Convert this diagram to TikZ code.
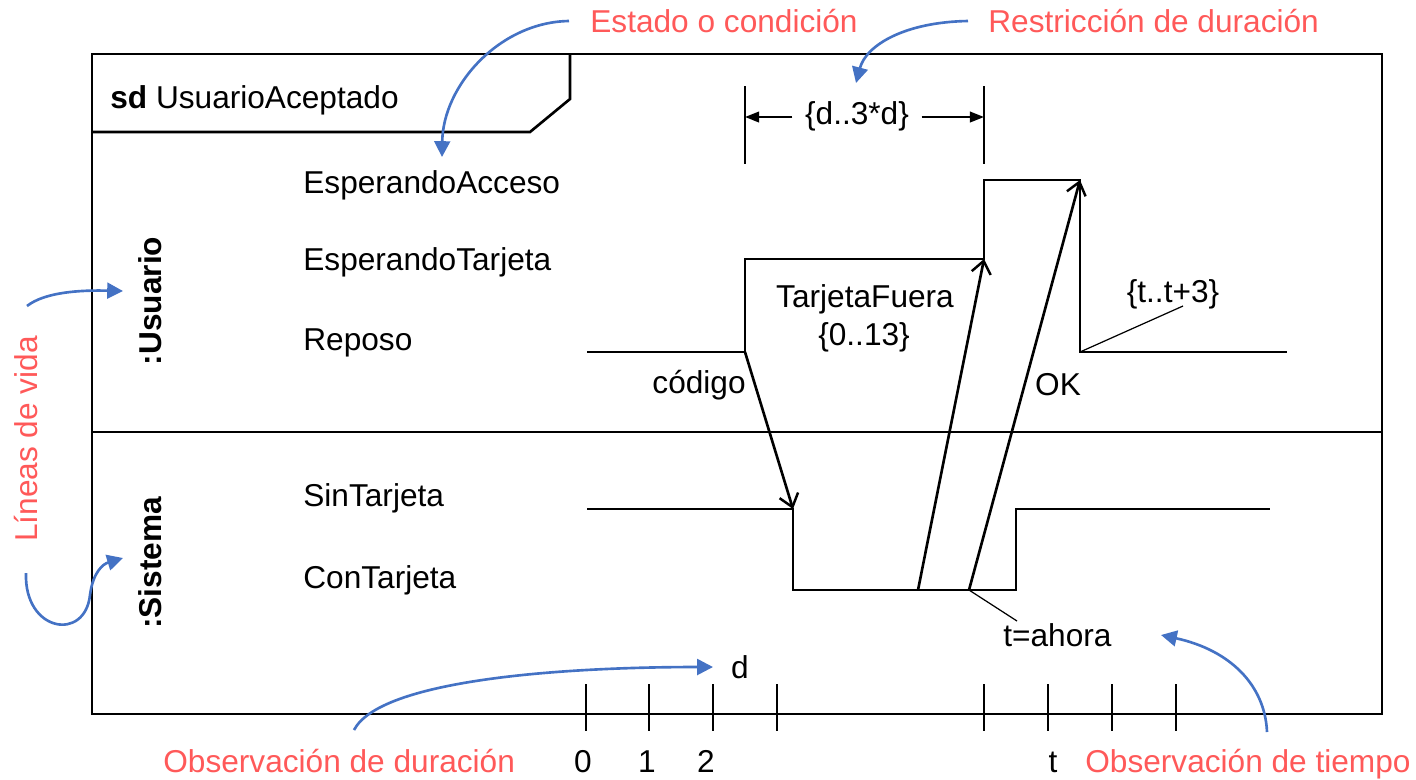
\documentclass[tikz,border=0pt]{standalone}
\usepackage{fontspec}
\setmainfont{Liberation Sans}
\usetikzlibrary{arrows.meta}
\definecolor{annred}{RGB}{255,89,89}
\definecolor{annblue}{RGB}{68,114,196}
\begin{document}
\begin{tikzpicture}[x=0.02cm,y=-0.02cm,
 every node/.style={font=\fontsize{18}{21}\selectfont, inner sep=0pt},
 ln/.style={line width=1.5pt, line join=miter},
 leader/.style={line width=0.7pt},
 msg/.style={line width=1.5pt, -{Straight Barb[length=7pt,width=11pt,line width=1.4pt]}},
 dimarrow/.style={line width=1.2pt, -{Triangle[length=8pt,width=6pt]}},
 ann/.style={text=annred},
 callout/.style={draw=annblue, line width=1.5pt, -{Triangle[length=9pt,width=9pt,fill=annblue]}},
 state/.style={anchor=base west},
 lifename/.style={rotate=90, font=\fontsize{18}{21}\selectfont\bfseries},
 tick/.style={line width=1.5pt}
]
\useasboundingbox (0,0) rectangle (1416,779);

% frame
\draw[ln] (92,54) rectangle (1382,714);
\draw[ln] (92,132) -- (530,132) -- (570,99) -- (570,54);
\draw[ln] (92,432) -- (1382,432);
\node[anchor=base west] (title) at (110,108) {\textbf{sd} UsuarioAceptado};

% lifeline names
\node[lifename] (usuario) at (150,301) {:Usuario};
\node[lifename] (sistema) at (150,563) {:Sistema};

% state labels
\node[state] (sEA) at (303,193) {EsperandoAcceso};
\node[state] (sET) at (303,270) {EsperandoTarjeta};
\node[state] (sRe) at (303,350) {Reposo};
\node[state] (sST) at (303,506) {SinTarjeta};
\node[state] (sCT) at (303,588) {ConTarjeta};

% timelines
\draw[ln] (587,352) -- (745,352) -- (745,259) -- (984,259) -- (984,180) -- (1080,180) -- (1080,352) -- (1287,352);
\draw[ln] (587,509) -- (793,509) -- (793,590) -- (1016,590) -- (1016,509) -- (1270,509);

% message points
\coordinate (m1s) at (745,352);
\coordinate (m1e) at (793,509);
\coordinate (m2s) at (918,590);
\coordinate (m2e) at (984,259);
\coordinate (m3s) at (969,590);
\coordinate (m3e) at (1080,180);
\draw[msg] (m1s) -- (m1e);
\draw[msg] (m2s) -- (m2e);
\draw[msg] (m3s) -- (m3e);

\node[anchor=base east] (codigo) at (746,393) {código};
\node[anchor=base] (ok) at (1058,395) {OK};
\node[anchor=base] (tf) at (865,307) {TarjetaFuera};
\node[anchor=base] (tf2) at (864,345) {\{0..13\}};

% time constraint {t..t+3}
\node[anchor=base] (tt3) at (1173,302) {\{t..t+3\}};
\coordinate (tt3lead) at (1183,306);
\coordinate (okend) at (1080,352);
\draw[leader] (okend) -- (tt3lead);

% t=ahora
\node[anchor=base west] (tnow) at (1003,646) {t=ahora};
\coordinate (tnowlead) at (1017,621);
\draw[leader] (m3s) -- (tnowlead);

% duration constraint
\draw[tick] (745,86) -- (745,164);
\draw[tick] (984,86) -- (984,164);
\node (dur) at (857,116) {\{d..3*d\}};
\coordinate (dl) at (745,117);
\coordinate (dr) at (984,117);
\draw[dimarrow, shorten <=7pt] (dur.west |- dl) -- (dl);
\draw[dimarrow, shorten <=7pt] (dur.east |- dr) -- (dr);

% time axis ticks
\foreach \x in {586,649,713,777,984,1048,1112,1176}
  \draw[tick] (\x,684) -- (\x,731);
\node[anchor=base] (t0) at (583,772) {0};
\node[anchor=base] (t1) at (647,772) {1};
\node[anchor=base] (t2) at (706,772) {2};
\node[anchor=base] (tt) at (1053,772) {t};
\node[anchor=base] (dd) at (740,678) {d};

% annotations
\node[ann, anchor=base west] (lbl1) at (590,32) {Estado o condición};
\node[ann, anchor=base west] (lbl2) at (988,32) {Restricción de duración};
\node[ann, rotate=90, anchor=base] (lbl3) at (37,439) {Líneas de vida};
\node[ann, anchor=base west] (lbl4) at (163,772) {Observación de duración};
\node[ann, anchor=base west] (lbl5) at (1085,772) {Observación de tiempo};

\coordinate (a1s) at (569,21);
\coordinate (a1e) at (442,157);
\draw[callout] (a1s) .. controls (500,22) and (443,85) .. (a1e);
\coordinate (a2s) at (968,21);
\coordinate (a2e) at (856,83);
\draw[callout] (a2s) .. controls (905,22) and (866,45) .. (a2e);
\coordinate (a3s) at (27,306);
\coordinate (a3e) at (123,291);
\draw[callout] (a3s) .. controls (45,292) and (80,290) .. (a3e);
\coordinate (a4s) at (26,573);
\coordinate (a4m) at (90,595);
\coordinate (a4e) at (123,558);
\draw[callout] (a4s) .. controls (24,632) and (85,642) .. (a4m) .. controls (93,572) and (103,564) .. (a4e);
\coordinate (a5s) at (354,730);
\coordinate (a5e) at (713,667);
\draw[callout] (a5s) .. controls (380,680) and (560,667) .. (a5e);
\coordinate (a6s) at (1267,732);
\coordinate (a6e) at (1161,635);
\draw[callout] (a6s) .. controls (1265,685) and (1230,650) .. (a6e);
\end{tikzpicture}
\end{document}
